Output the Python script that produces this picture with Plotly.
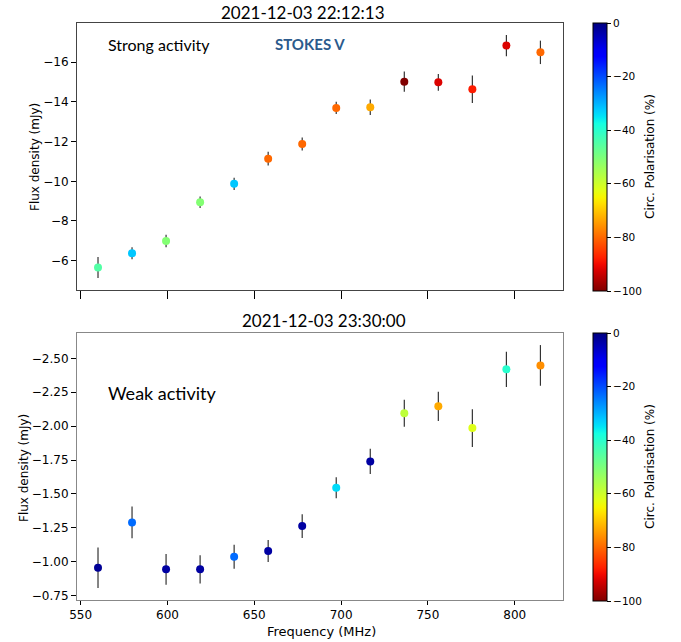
import numpy as np
import plotly.graph_objects as go

# ---------------- data ----------------
freq_mhz = [560.0, 579.6, 599.2, 618.8, 638.4, 658.0, 677.6, 697.2, 716.8, 736.4, 756.0, 775.6, 795.2, 814.8]

strong_flux = [-5.65, -6.37, -6.99, -8.94, -9.87, -11.14, -11.88, -13.70, -13.73, -15.02, -14.99, -14.64, -16.84, -16.50]
strong_err = [0.53, 0.30, 0.31, 0.29, 0.31, 0.35, 0.33, 0.31, 0.39, 0.51, 0.42, 0.69, 0.53, 0.59]
strong_pol = [-45, -32, -51, -51, -32, -80, -80, -80, -73, -100, -92, -88, -92, -80]

weak_flux = [-0.956, -1.29, -0.944, -0.944, -1.037, -1.079, -1.263, -1.546, -1.74, -2.095, -2.146, -1.986, -2.419, -2.448]
weak_err = [0.15, 0.117, 0.114, 0.104, 0.088, 0.081, 0.088, 0.077, 0.093, 0.10, 0.108, 0.139, 0.13, 0.15]
weak_pol = [-2, -23, -3, -3, -23, -3, -3, -34, -3, -58, -73, -62, -40, -76]

x_ticks = [550, 600, 650, 700, 750, 800]
strong_yticks = [-6, -8, -10, -12, -14, -16]
weak_yticks = [-0.75, -1.00, -1.25, -1.50, -1.75, -2.00, -2.25, -2.50]
cbar_ticks = [0, -20, -40, -60, -80, -100]

title_top = "2021-12-03 22:12:13"
title_bottom = "2021-12-03 23:30:00"

# ---------------- colormap (matplotlib jet, reversed) ----------------
jet_r = [(0, 0), (0.35, 0), (0.66, 1), (0.89, 1), (1, 0.5)]
jet_g = [(0, 0), (0.125, 0), (0.375, 1), (0.64, 1), (0.91, 0), (1, 0)]
jet_b = [(0, 0.5), (0.11, 1), (0.34, 1), (0.65, 0), (1, 0)]


def ch(seg, t):
    xs, ys = zip(*seg)
    return float(np.interp(t, xs, ys))


cscale = []
for s in np.linspace(0, 1, 41):
    t = 1 - s
    r, g, b = (int(round(255 * ch(seg, t))) for seg in (jet_r, jet_g, jet_b))
    cscale.append([float(s), f"rgb({r},{g},{b})"])

W, H = 681, 642


def px(x):
    return x / W


def py(y):
    return 1 - y / H


TICKFONT = dict(family="DejaVu Sans", size=12, color="black")
TXTFONT = "Lato"

fig = go.Figure()


def cbar(top_px):
    return dict(
        x=px(593), xanchor="left", xpad=0,
        y=py(top_px), yanchor="top", ypad=0,
        len=268, lenmode="pixels",
        thickness=14, thicknessmode="pixels",
        outlinewidth=1, outlinecolor="black",
        tickvals=cbar_ticks, ticks="outside", ticklen=4, tickcolor="black",
        tickfont=dict(family="DejaVu Sans", size=10.5, color="black"),
    )


fig.add_trace(go.Scatter(
    x=freq_mhz, y=strong_flux, mode="markers", xaxis="x", yaxis="y",
    error_y=dict(type="data", array=strong_err, color="#333333", thickness=1.2, width=0),
    marker=dict(size=8, color=strong_pol, colorscale=cscale, cmin=-100, cmax=0,
                line=dict(width=0), colorbar=cbar(23)),
    showlegend=False,
))
fig.add_trace(go.Scatter(
    x=freq_mhz, y=weak_flux, mode="markers", xaxis="x2", yaxis="y2",
    error_y=dict(type="data", array=weak_err, color="#333333", thickness=1.2, width=0),
    marker=dict(size=8, color=weak_pol, colorscale=cscale, cmin=-100, cmax=0,
                line=dict(width=0), colorbar=cbar(333)),
    showlegend=False,
))

xr = [547.9, 827.8]
xdom = [px(77), px(563)]
common_x = dict(range=xr, domain=xdom, tickvals=x_ticks, ticks="outside", tickcolor="black",
                showgrid=False, zeroline=False, showline=True, mirror=True,
                tickfont=TICKFONT, automargin=False)

fig.update_layout(
    width=W, height=H, margin=dict(l=0, r=0, t=0, b=0, autoexpand=False),
    paper_bgcolor="white", plot_bgcolor="white",
    xaxis=dict(**common_x, anchor="y", showticklabels=False, ticklen=8, linecolor="#444444"),
    yaxis=dict(range=[-4.52, -17.98], domain=[py(290), py(23)], anchor="x",
               tickvals=strong_yticks, ticks="outside", ticklen=5, tickcolor="black",
               showgrid=False, zeroline=False, showline=True, mirror=True,
               linecolor="#444444", tickfont=TICKFONT, automargin=False),
    xaxis2=dict(**common_x, anchor="y2", ticklen=4, linecolor="#888888"),
    yaxis2=dict(range=[-0.718, -2.687], domain=[py(600), py(333)], anchor="x2",
                tickvals=weak_yticks, tickformat=".2f", ticks="outside", ticklen=5,
                tickcolor="black", showgrid=False, zeroline=False, showline=True,
                mirror=True, linecolor="#888888", tickfont=TICKFONT, automargin=False),
)

ann = [
    dict(text=title_top, x=px(303), y=py(12), font=dict(family=TXTFONT, size=17, color="black")),
    dict(text=title_bottom, x=px(324), y=py(320), font=dict(family=TXTFONT, size=17, color="black")),
    dict(text="Strong activity", x=px(159), y=py(44), font=dict(family=TXTFONT, size=16, color="black")),
    dict(text="<b>STOKES V</b>", x=px(310), y=py(44), font=dict(family=TXTFONT, size=15, color="#2B5A8C")),
    dict(text="Weak activity", x=px(162), y=py(393), font=dict(family=TXTFONT, size=18, color="black")),
    dict(text="Flux density (mJy)", x=px(35), y=py(157), textangle=-90,
         font=dict(family="DejaVu Sans", size=12, color="black")),
    dict(text="Flux density (mJy)", x=px(24), y=py(468), textangle=-90,
         font=dict(family="DejaVu Sans", size=12, color="black")),
    dict(text="Frequency (MHz)", x=px(321), y=py(631),
         font=dict(family="DejaVu Sans", size=13, color="black")),
    dict(text="Circ. Polarisation (%)", x=px(650), y=py(157), textangle=-90,
         font=dict(family="DejaVu Sans", size=12, color="black")),
    dict(text="Circ. Polarisation (%)", x=px(650), y=py(467), textangle=-90,
         font=dict(family="DejaVu Sans", size=12, color="black")),
]
for a in ann:
    fig.add_annotation(xref="paper", yref="paper", showarrow=False,
                       xanchor="center", yanchor="middle", **a)

fig.write_html("out.html", config={"displayModeBar": False},
               post_script="document.body.style.margin='0';")
